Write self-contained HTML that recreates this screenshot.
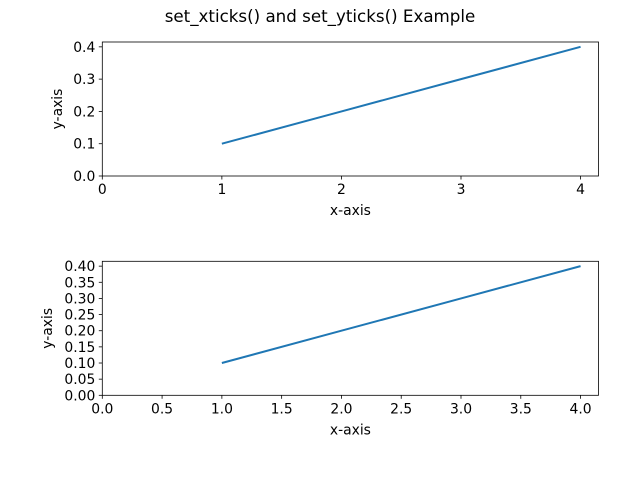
<!DOCTYPE html>
<html><head><meta charset="utf-8"><style>body{margin:0;background:#fff}svg{display:block}text{font-family:"DejaVu Sans","Liberation Sans",sans-serif;font-size:13.9px;fill:#000}</style></head>
<body>
<svg id="c" width="640" height="480">
<text x="320" y="22" text-anchor="middle" style="font-size:16.7px">set_xticks() and set_yticks() Example</text>
</svg>
<script>
const xs=[1,2,3,4];
const ys=[0.1,0.2,0.3,0.4];
const topXTicks=[0,1,2,3,4];
const topYTicks=[0,0.1,0.2,0.3,0.4];
const botXTicks=[0,0.5,1,1.5,2,2.5,3,3.5,4];
const botYTicks=[0,0.05,0.1,0.15,0.2,0.25,0.3,0.35,0.4];
const svg=document.getElementById('c');const NS='http://www.w3.org/2000/svg';
function mk(t,a,p){const e=document.createElementNS(NS,t);for(const k in a)e.setAttribute(k,a[k]);(p||svg).appendChild(e);return e;}
function panel(top,xt,yt,xdec,ydec,name){
 const L=102.3,R=598.5,T=top,B=top+134,xmax=4.15,ymax=0.415;
 const g=mk('g',{});
 
 
 const X=v=>L+v/xmax*(R-L),Y=v=>B-v/ymax*(B-T);
 const pts=xs.map((x,i)=>X(x)+','+Y(ys[i])).join(' ');
 const ln=mk('polyline',{points:pts,fill:'none',stroke:'#1f77b4','stroke-width':2},g);
 
 
 const fr=mk('rect',{x:L,y:T,width:R-L,height:B-T,fill:'none',stroke:'#000','stroke-width':0.8},g);
 
 
 xt.forEach(v=>{const x=X(v);mk('line',{x1:x,x2:x,y1:B,y2:B+3.5,stroke:'#000','stroke-width':0.8},g);
  const t=mk('text',{x:x,y:B+18,'text-anchor':'middle'},g);t.textContent=v.toFixed(xdec);
  
  });
 yt.forEach(v=>{const y=Y(v);mk('line',{x1:L,x2:L-3.5,y1:y,y2:y,stroke:'#000','stroke-width':0.8},g);
  const t=mk('text',{x:L-7,y:y+5,'text-anchor':'end'},g);t.textContent=v.toFixed(ydec);
  
  });
 const xl=mk('text',{x:(L+R)/2,y:B+39,'text-anchor':'middle'},g);xl.textContent='x-axis';
 
 
 const yx=ydec===1?62:52;
 const yl=mk('text',{x:yx,y:(T+B)/2,'text-anchor':'middle',transform:`rotate(-90 ${yx} ${(T+B)/2})`},g);yl.textContent='y-axis';
 
 
}
panel(42,topXTicks,topYTicks,0,1,'top-axes');
panel(261.3,botXTicks,botYTicks,1,2,'bottom-axes');
</script>
</body></html>
